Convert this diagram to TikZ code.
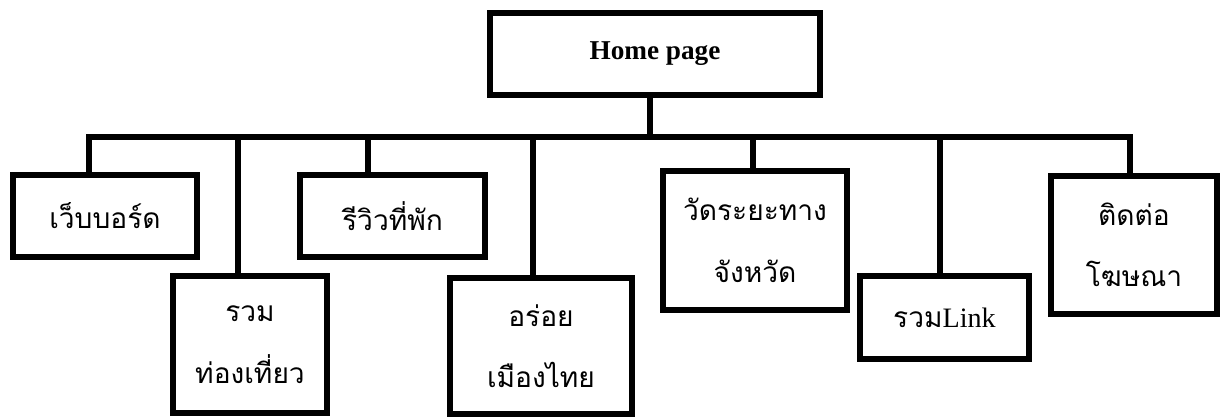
\documentclass[tikz,border=0pt]{standalone}
\usepackage{fontspec}
\setmainfont{Liberation Serif}
\newfontfamily\thaifont[Script=Thai]{Loma}
\tikzset{%
  page/.style = {draw, line width=3.5pt, rectangle, inner sep=0pt,
    fill=white, align=center, font=\thaifont\fontsize{16}{35}\selectfont},
  home/.style = {page, minimum width=6.6cm, minimum height=1.64cm,
    font=\bfseries\fontsize{15.5}{18}\selectfont}
}
\tikzstyle{link} = [draw, line width=3.5pt]

\begin{document}
\begin{tikzpicture}
\useasboundingbox (0,0) rectangle (24.44,-8.34);

\draw
  node [home] (home) at (13.10,-1.08) {Home page}
;

\draw
  node [page, minimum width=3.68cm, minimum height=1.64cm] (board) at (2.10,-4.32) {เว็บบอร์ด}
  node [page, minimum width=3.08cm, minimum height=2.74cm] (tour) at (5.00,-6.89) {รวม\\ท่องเที่ยว}
  node [page, minimum width=3.70cm, minimum height=1.64cm] (review) at (7.85,-4.32) {รีวิวที่พัก}
  node [page, minimum width=3.64cm, minimum height=2.72cm] (food) at (10.82,-6.92) {อร่อย\\เมืองไทย}
;

\draw
  node [page, minimum width=3.68cm, minimum height=2.78cm] (dist) at (15.10,-4.81) {วัดระยะทาง\\จังหวัด}
  node [page, minimum width=3.38cm, minimum height=1.66cm] (links) at (18.89,-6.35) {รวม{\normalfont Link}}
  node [page, minimum width=3.32cm, minimum height=2.76cm] (contact) at (22.68,-4.90) {ติดต่อ\\โฆษณา}
;

\coordinate (bus) at (13.0,-2.74);

\draw [link] (home.south -| bus) -- (bus);
\draw [link] ([xshift=-0.32cm]board.north) |- (bus) -| ([xshift=-0.08cm]contact.north);

\draw [link] ([xshift=-0.24cm]tour.north) -- ([xshift=-0.24cm]tour.north |- bus);
\draw [link] ([xshift=-0.49cm]review.north) -- ([xshift=-0.49cm]review.north |- bus);
\draw [link] ([xshift=-0.16cm]food.north) -- ([xshift=-0.16cm]food.north |- bus);
\draw [link] ([xshift=-0.04cm]dist.north) -- ([xshift=-0.04cm]dist.north |- bus);
\draw [link] ([xshift=-0.09cm]links.north) -- ([xshift=-0.09cm]links.north |- bus);

\end{tikzpicture}
\end{document}
